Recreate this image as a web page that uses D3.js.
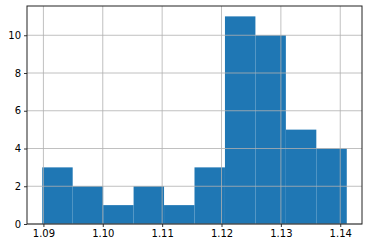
<!DOCTYPE html>
<html>
<head>
<meta charset="utf-8">
<script src="https://cdn.jsdelivr.net/npm/d3@7"></script>
<style>
  body { margin: 0; background: #fff; }
  text { font-family: "DejaVu Sans", sans-serif; font-size: 10px; fill: #000; }
</style>
</head>
<body>
<div id="chart"></div>
<script>
var width = 368;
var height = 248;

// histogram bins (10 equal bins) and counts
var binMin = 1.0898;
var binMax = 1.1411;
var counts = [3, 2, 1, 2, 1, 3, 11, 10, 5, 4];
var xTicks = [1.09, 1.10, 1.11, 1.12, 1.13, 1.14];
var yTicks = [0, 2, 4, 6, 8, 10];

var margin = {left: 27, right: 6, top: 6, bottom: 24};

var binWidth = (binMax - binMin) / counts.length;
var bins = counts.map(function(c, i) {
    return {x0: binMin + i * binWidth, x1: binMin + (i + 1) * binWidth, count: c};
});

var pad = (binMax - binMin) * 0.05;
var x = d3.scaleLinear()
    .domain([binMin - pad, binMax + pad])
    .range([margin.left, width - margin.right]);

var y = d3.scaleLinear()
    .domain([0, d3.max(counts) * 1.05])
    .range([height - margin.bottom, margin.top]);

var svg = d3.select("#chart")
    .append("svg")
    .attr("width", width)
    .attr("height", height);

// bars
svg.selectAll("rect.bar")
    .data(bins)
    .enter()
    .append("rect")
    .attr("class", "bar")
    .attr("x", function(d) { return x(d.x0); })
    .attr("width", function(d) { return x(d.x1) - x(d.x0); })
    .attr("y", function(d) { return y(d.count); })
    .attr("height", function(d) { return y(0) - y(d.count); })
    .attr("fill", "#1f77b4");

// grid on top of bars
var grid = svg.append("g").attr("stroke", "#b0b0b0").attr("stroke-width", 0.8);
grid.selectAll("line.vx")
    .data(xTicks)
    .enter()
    .append("line")
    .attr("x1", function(d) { return x(d); })
    .attr("x2", function(d) { return x(d); })
    .attr("y1", margin.top)
    .attr("y2", height - margin.bottom);
grid.selectAll("line.hy")
    .data(yTicks)
    .enter()
    .append("line")
    .attr("x1", margin.left)
    .attr("x2", width - margin.right)
    .attr("y1", function(d) { return y(d); })
    .attr("y2", function(d) { return y(d); });

// axes
var xAxis = d3.axisBottom(x)
    .tickValues(xTicks)
    .tickFormat(d3.format(".2f"))
    .tickSizeInner(3)
    .tickSizeOuter(0)
    .tickPadding(3);
var yAxis = d3.axisLeft(y)
    .tickValues(yTicks)
    .tickFormat(d3.format("d"))
    .tickSizeInner(3)
    .tickSizeOuter(0)
    .tickPadding(3);

var gx = svg.append("g")
    .attr("transform", "translate(0," + (height - margin.bottom) + ")")
    .call(xAxis);
var gy = svg.append("g")
    .attr("transform", "translate(" + margin.left + ",0)")
    .call(yAxis);

[gx, gy].forEach(function(g) {
    g.select(".domain").remove();
    g.selectAll(".tick line").attr("stroke", "#000").attr("stroke-width", 0.8);
    g.selectAll("text").attr("font-family", null).attr("font-size", null).attr("fill", "#000");
});

// frame
svg.append("rect")
    .attr("x", margin.left)
    .attr("y", margin.top)
    .attr("width", width - margin.left - margin.right)
    .attr("height", height - margin.top - margin.bottom)
    .attr("fill", "none")
    .attr("stroke", "#222")
    .attr("stroke-width", 1);
</script>
</body>
</html>
